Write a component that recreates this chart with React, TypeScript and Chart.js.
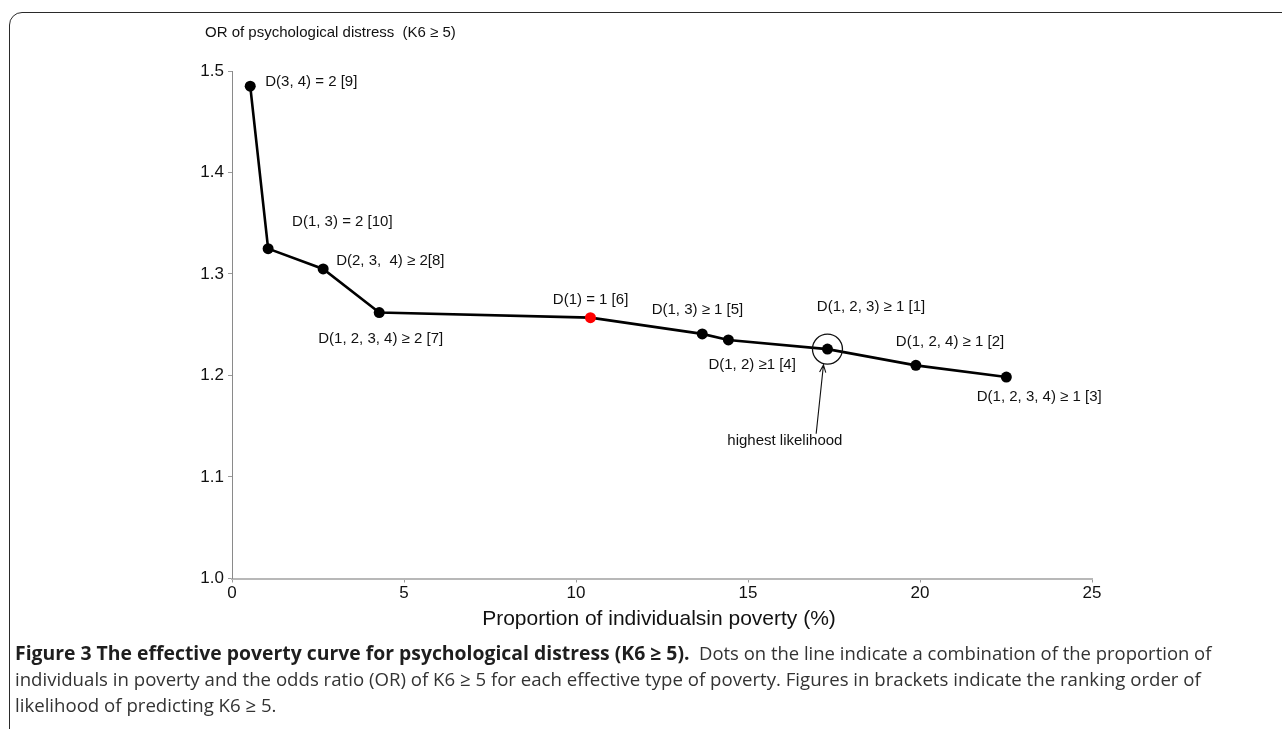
import React, { useEffect, useLayoutEffect, useRef } from 'react';
import { Chart, registerables } from 'chart.js';

Chart.register(...registerables);

// ---- data ----
const X_VALUES = [0.53, 1.05, 2.65, 4.28, 10.42, 13.67, 14.43, 17.31, 19.88, 22.51];
const OR_VALUES = [1.485, 1.325, 1.305, 1.262, 1.257, 1.241, 1.235, 1.226, 1.21, 1.1985];
const POINT_LABELS = [
  'D(3, 4) = 2 [9]',
  'D(1, 3) = 2 [10]',
  'D(2, 3,  4) ≥ 2[8]',
  'D(1, 2, 3, 4) ≥ 2 [7]',
  'D(1) = 1 [6]',
  'D(1, 3) ≥ 1 [5]',
  'D(1, 2) ≥1 [4]',
  'D(1, 2, 3) ≥ 1 [1]',
  'D(1, 2, 4) ≥ 1 [2]',
  'D(1, 2, 3, 4) ≥ 1 [3]',
];
const X_TICK_VALUES = [0, 5, 10, 15, 20, 25];
const Y_TICK_VALUES = [1.0, 1.1, 1.2, 1.3, 1.4, 1.5];
const HIGHLIGHT_INDEX = 4; // red dot
const BEST_INDEX = 7; // circled, "highest likelihood"

const Y_TITLE = 'OR of psychological distress  (K6 ≥ 5)';
const X_TITLE = 'Proportion of individualsin poverty (%)';
const ANNOTATION_TEXT = 'highest likelihood';
const CAPTION_BOLD = 'Figure 3 The effective poverty curve for psychological distress (K6 ≥ 5).';
const CAPTION_LINE1 = 'Dots on the line indicate a combination of the proportion of';
const CAPTION_LINE2 =
  'individuals in poverty and the odds ratio (OR) of K6 ≥ 5 for each effective type of poverty. Figures in brackets indicate the ranking order of';
const CAPTION_LINE3 = 'likelihood of predicting K6 ≥ 5.';

// ---- layout / style (not data) ----
const LABEL_OFFSETS: [number, number][] = [
  [15, -4],
  [24, -27],
  [13, -8],
  [-61, 26],
  [-37.6, -18],
  [-50.6, -24],
  [-20, 25],
  [-10.6, -42.6],
  [-20, -23.6],
  [-29.6, 20.3],
];
const FONT = '"Liberation Sans", Arial, Helvetica, sans-serif';

const annotationPlugin = {
  id: 'annotations',
  afterDatasetsDraw(chart: any) {
    const ctx = chart.ctx as CanvasRenderingContext2D;
    const meta = chart.getDatasetMeta(0);
    const area = chart.chartArea;
    ctx.save();
    ctx.fillStyle = '#111';
    ctx.strokeStyle = '#111';
    ctx.font = `15px ${FONT}`;
    ctx.textBaseline = 'middle';
    ctx.textAlign = 'left';
    meta.data.forEach((pt: any, i: number) => {
      const [dx, dy] = LABEL_OFFSETS[i];
      ctx.fillText(POINT_LABELS[i], pt.x + dx, pt.y + dy);
    });

    // circle around the best point
    const b = meta.data[BEST_INDEX];
    ctx.beginPath();
    ctx.lineWidth = 1.3;
    ctx.arc(b.x, b.y, 15, 0, Math.PI * 2);
    ctx.stroke();

    // arrow
    const sx = b.x - 11.3;
    const sy = b.y + 84.7;
    const tx = b.x - 4;
    const ty = b.y + 15.8;
    ctx.lineWidth = 1.1;
    ctx.beginPath();
    ctx.moveTo(sx, sy);
    ctx.lineTo(tx, ty);
    const ang = Math.atan2(ty - sy, tx - sx);
    const hl = 8;
    ctx.moveTo(tx - hl * Math.cos(ang - 0.4), ty - hl * Math.sin(ang - 0.4));
    ctx.lineTo(tx, ty);
    ctx.lineTo(tx - hl * Math.cos(ang + 0.4), ty - hl * Math.sin(ang + 0.4));
    ctx.stroke();

    ctx.textAlign = 'center';
    ctx.fillText(ANNOTATION_TEXT, b.x - 42.6, b.y + 91.4);

    // y-axis title (horizontal, top-left)
    ctx.textAlign = 'left';
    ctx.fillText(Y_TITLE, area.left - 27, area.top - 38);

    // x-axis title
    ctx.font = `21px ${FONT}`;
    ctx.textAlign = 'center';
    ctx.fillText(X_TITLE, (area.left + area.right) / 2 - 3, area.bottom + 40.5);
    ctx.restore();
  },
};

function ChartCanvas() {
  const ref = useRef<HTMLCanvasElement>(null);
  useEffect(() => {
    const canvas = ref.current!;
    const chart = new Chart(canvas, {
      type: 'line',
      data: {
        datasets: [
          {
            data: X_VALUES.map((x, i) => ({ x, y: OR_VALUES[i] })),
            borderColor: '#000',
            borderWidth: 2.6,
            pointRadius: 5.5,
            pointBorderWidth: 0,
            pointBackgroundColor: (c: any) => (c.dataIndex === HIGHLIGHT_INDEX ? '#ff0000' : '#000'),
            pointBorderColor: (c: any) => (c.dataIndex === HIGHLIGHT_INDEX ? '#ff0000' : '#000'),
            tension: 0,
            clip: false as any,
          },
        ],
      },
      options: {
        animation: false,
        responsive: false,
        devicePixelRatio: 1,
        events: [],
        layout: { padding: { left: 0, top: 71, right: 190, bottom: 110.5 } },
        plugins: { legend: { display: false }, tooltip: { enabled: false } },
        scales: {
          x: {
            type: 'linear',
            position: 'bottom',
            min: 0,
            max: 25,
            afterBuildTicks: (s: any) => {
              s.ticks = X_TICK_VALUES.map((v) => ({ value: v }));
            },
            afterFit: (s: any) => {
              s.height = 40;
            },
            grid: { drawOnChartArea: false, drawTicks: true, tickLength: 4, color: '#9a9a9a', lineWidth: 1 },
            border: { display: true, color: '#b8b8b8', width: 2 },
            ticks: {
              color: '#111',
              font: { family: FONT, size: 17 },
              padding: 1,
              maxRotation: 0,
              autoSkip: false,
              callback: (v: any) => String(v),
            },
          },
          y: {
            type: 'linear',
            min: 1.0,
            max: 1.5,
            afterBuildTicks: (s: any) => {
              s.ticks = Y_TICK_VALUES.map((v) => ({ value: v }));
            },
            afterFit: (s: any) => {
              s.width = 232;
            },
            grid: { drawOnChartArea: false, drawTicks: true, tickLength: 4, color: '#9a9a9a', lineWidth: 1 },
            border: { display: true, color: '#8a8a8a', width: 1 },
            ticks: {
              color: '#111',
              font: { family: FONT, size: 17 },
              padding: 4,
              autoSkip: false,
              callback: (v: any) => Number(v).toFixed(1),
            },
          },
        },
      },
      plugins: [annotationPlugin],
    });
    return () => chart.destroy();
  }, []);
  return (
    <canvas
      ref={ref}
      width={1282}
      height={729}
      style={{ position: 'absolute', left: 0, top: 0, width: 1282, height: 729, display: 'block' }}
    />
  );
}

function Caption() {
  const bold = useRef<HTMLSpanElement>(null);
  const l1 = useRef<HTMLSpanElement>(null);
  const l2 = useRef<HTMLSpanElement>(null);
  const l3 = useRef<HTMLSpanElement>(null);
  useLayoutEffect(() => {
    const fit = (el: HTMLSpanElement | null, target: number) => {
      if (!el) return 1;
      const w = el.offsetWidth;
      const s = w > 0 ? target / w : 1;
      el.style.transform = `scaleX(${s})`;
      return s;
    };
    fit(bold.current, 675);
    fit(l1.current, 512);
    const s2 = fit(l2.current, 1186);
    if (l3.current) l3.current.style.transform = `scaleX(${s2})`;
  }, []);
  const base: React.CSSProperties = {
    position: 'absolute',
    whiteSpace: 'nowrap',
    transformOrigin: '0 50%',
    fontFamily: '"Open Sans", "Noto Sans", sans-serif',
    fontSize: 19,
    lineHeight: '22px',
    height: 22,
    color: '#333',
  };
  return (
    <>
      <span ref={bold} style={{ ...base, left: 15, top: 642, fontWeight: 700, color: '#1e1e1e' }}>
        {CAPTION_BOLD}
      </span>
      <span ref={l1} style={{ ...base, left: 699, top: 642 }}>
        {CAPTION_LINE1}
      </span>
      <span ref={l2} style={{ ...base, left: 15, top: 668 }}>
        {CAPTION_LINE2}
      </span>
      <span ref={l3} style={{ ...base, left: 15, top: 694 }}>
        {CAPTION_LINE3}
      </span>
    </>
  );
}

export default function App() {
  return (
    <div
      style={{
        position: 'fixed',
        left: 0,
        top: 0,
        width: 1282,
        height: 729,
        overflow: 'hidden',
        background: '#fff',
      }}
    >
      <div
        style={{
          position: 'absolute',
          left: 9,
          top: 12,
          width: 1400,
          height: 900,
          border: '1.6px solid #2a2a2a',
          borderRadius: 13,
          boxSizing: 'border-box',
        }}
      />
      <ChartCanvas />
      <Caption />
    </div>
  );
}
